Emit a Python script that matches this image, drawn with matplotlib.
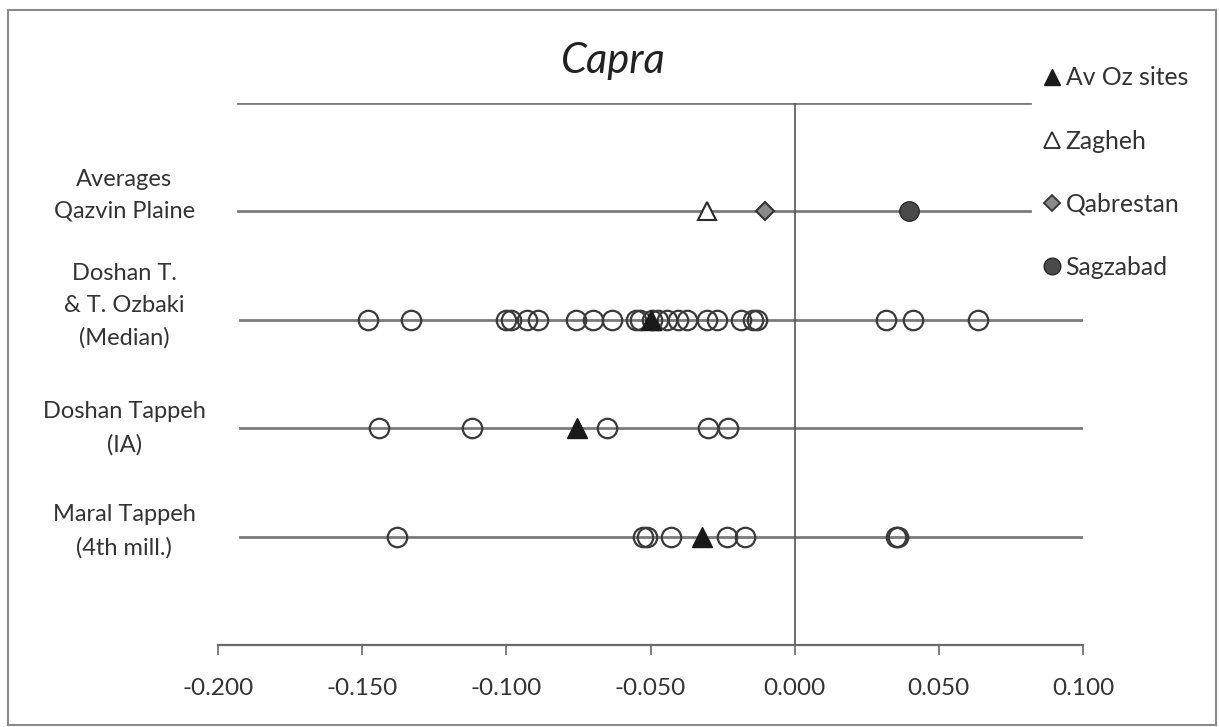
#!/usr/bin/env python3
import matplotlib
import matplotlib.pyplot as plt
from matplotlib.lines import Line2D
from matplotlib.patches import Rectangle

matplotlib.use("Agg")

plt.rcParams["font.family"] = ["Lato", "DejaVu Sans"]

# Row positions (y) and their labels
row_labels = [
    "Averages\nQazvin Plaine",
    "Doshan T.\n& T. Ozbaki\n(Median)",
    "Doshan Tappeh\n(IA)",
    "Maral Tappeh\n(4th mill.)",
]
row_y = [4, 3, 2, 1]

# Individual values (open circles)
ozbaki_vals = [
    -0.148, -0.133, -0.100, -0.0985, -0.093, -0.089, -0.076, -0.070, -0.0635,
    -0.055, -0.0535, -0.0496, -0.0475, -0.0444, -0.0406, -0.0375, -0.0305,
    -0.027, -0.0187, -0.0146, -0.0132, 0.0316, 0.0409, 0.0635,
]
doshan_vals = [-0.144, -0.112, -0.065, -0.030, -0.023]
maral_vals = [-0.138, -0.0527, -0.0513, -0.043, -0.0236, -0.0173, 0.035, 0.036]

# Av Oz sites (filled triangles), per row
avoz_y = [3, 2, 1]
avoz_x = [-0.050, -0.0756, -0.032]

# Averages row
zagheh_x = -0.0305
qabrestan_x = -0.0104
sagzabad_x = 0.0395

xticks = [-0.2, -0.15, -0.1, -0.05, 0.0, 0.05, 0.1]

fig = plt.figure(figsize=(12.19, 7.27), dpi=100)
ax = fig.add_axes([218 / 1219, (727 - 645) / 727, 865 / 1219, (645 - 103) / 727])
ax.set_xlim(-0.2, 0.1)
ax.set_ylim(0, 5)

line_col = "#7a7a7a"
# horizontal row lines
ax.plot([-0.1932, 0.0815], [5, 5], color=line_col, lw=2, zorder=1)
ax.plot([-0.1932, 0.0815], [4, 4], color=line_col, lw=2, zorder=1)
for y in [3, 2, 1]:
    ax.plot([-0.1925, 0.1], [y, y], color=line_col, lw=2, zorder=1)

# vertical zero line
ax.plot([0, 0], [0, 5], color="#555555", lw=1.2, zorder=1)

circ = dict(marker="o", ms=14, mfc="none", mec="#3a3a3a", mew=1.6,
            linestyle="none", zorder=3, clip_on=False)
ax.plot(ozbaki_vals, [3] * len(ozbaki_vals), **circ)
ax.plot(doshan_vals, [2] * len(doshan_vals), **circ)
ax.plot(maral_vals, [1] * len(maral_vals), **circ)

ax.plot(avoz_x, avoz_y, marker="^", ms=14, color="#1a1a1a", linestyle="none", zorder=4)
ax.plot([zagheh_x], [4], marker="^", ms=13, mfc="white", mec="#2a2a2a", mew=1.5,
        linestyle="none", zorder=4)
ax.plot([qabrestan_x], [4], marker="D", ms=9, mfc="#8a8a8a", mec="#333333", mew=1.5,
        linestyle="none", zorder=4)
ax.plot([sagzabad_x], [4], marker="o", ms=14, mfc="#4a4a4a", mec="#2a2a2a", mew=1,
        linestyle="none", zorder=4)

# axes styling
for s in ["top", "right", "left"]:
    ax.spines[s].set_visible(False)
ax.spines["bottom"].set_color("#6a6a6a")
ax.spines["bottom"].set_linewidth(1.6)
ax.set_yticks([])
ax.set_xticks(xticks)
ax.set_xticklabels([f"{v:.3f}" for v in xticks], fontsize=17.5, color="#333333")
ax.tick_params(axis="x", direction="out", length=7, width=1.2, color="#6a6a6a", pad=16.5)

# row labels
label_pos = [4.15, 3.13, 2.0, 1.05]
for lab, yp in zip(row_labels, label_pos):
    ax.text(-0.2325, yp, lab, ha="center", va="center", fontsize=17,
            color="#333333", linespacing=1.65, clip_on=False)

# title
fig.text(613 / 1219, 1 - 61 / 727, "Capra", ha="center", va="center",
         fontsize=30, style="italic", color="#222222")

# legend
handles = [
    Line2D([], [], marker="^", ms=12, color="#1a1a1a", linestyle="none"),
    Line2D([], [], marker="^", ms=12, mfc="white", mec="#2a2a2a", mew=1.3, linestyle="none"),
    Line2D([], [], marker="D", ms=8, mfc="#8a8a8a", mec="#333333", mew=1.3, linestyle="none"),
    Line2D([], [], marker="o", ms=12, mfc="#4a4a4a", mec="#2a2a2a", linestyle="none"),
]
fig.legend(handles, ["Av Oz sites", "Zagheh", "Qabrestan", "Sagzabad"],
           loc="upper left", bbox_to_anchor=(1021 / 1219, 1 - 44 / 727),
           frameon=False, fontsize=17.8, labelspacing=1.63, handlelength=0.7,
           handletextpad=0.2, labelcolor="#333333")

# outer border
fig.patches.append(Rectangle((8 / 1219, 2 / 727), 1208 / 1219, 715 / 727,
                             transform=fig.transFigure, fill=False,
                             edgecolor="#8a8a8a", lw=1.5))

fig.savefig("out.png", dpi=100)
plt.close(fig)
